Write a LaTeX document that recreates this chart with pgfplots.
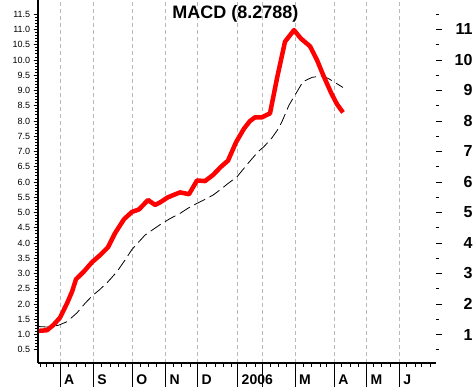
\documentclass[border=0pt]{standalone}
\usepackage{pgfplots}
\pgfplotsset{compat=1.18}
\usepackage{fontspec}
\setmainfont{Liberation Sans}

\pgfplotstableread{
x y
39 1.12
47 1.14
53 1.30
60 1.55
67 2.02
72 2.40
76 2.81
84 3.07
92 3.37
100 3.60
108 3.86
115 4.32
124 4.78
132 5.02
139 5.10
148 5.41
155 5.25
160 5.33
168 5.50
180 5.66
189 5.60
197 6.05
205 6.03
213 6.23
221 6.50
228 6.70
236 7.30
244 7.75
250 8.00
255 8.12
262 8.12
270 8.25
277 9.40
285 10.60
294 10.98
301 10.70
310 10.45
317 10.00
323 9.52
331 8.93
337 8.55
343 8.28
}\macd

\pgfplotstableread{
x y
39 1.26
50 1.24
59 1.31
67 1.42
77 1.71
85 2.02
92 2.26
100 2.48
108 2.73
117 3.06
125 3.44
132 3.79
145 4.26
160 4.60
170 4.80
180 4.97
188 5.14
197 5.30
205 5.43
213 5.57
220 5.74
228 5.95
237 6.17
248 6.61
258 6.99
264 7.16
272 7.45
278 7.73
282 7.98
289 8.52
295 8.85
303 9.29
312 9.43
322 9.48
328 9.40
335 9.26
343 9.10
}\signal

\begin{document}
\begin{tikzpicture}
\pgfplotsset{
  base/.style={scale only axis, width=398pt, height=363pt,
    xmin=38, xmax=436, ymin=0.066, ymax=11.967,
    at={(0pt,0pt)}, anchor=south west},
}
% x axis: month separators, weekly ticks, grid, labels
\begin{axis}[base,
  axis x line=bottom, axis y line=none,
  x axis line style={draw=none},
  ytick=\empty,
  xtick={60,93.3,132.3,165.7,197.7,237.7,262.3,295,334.3,366.7,399.3},
  xticklabels={A,S,O,N,D,2006,,M,A,M,J},
  minor xtick={40.5,46.7,53.3,68.3,76.7,85,101.7,110,118.3,125,140,148.3,156.7,173.5,181.7,190,206.7,215,223.3,231.7,246.7,255,270,278.3,286.7,303.3,311.7,320,326,341.7,350,358.3,373.3,381.7,390,406.7,415,421.7,430},
  tick align=outside,
  major tick length=24pt, minor tick length=4pt,
  xmajorgrids,
  grid style={black!28, dash pattern=on 4pt off 3pt, line width=0.7pt},
  xtick style={black, line width=0.8pt},
  xticklabel style={font=\bfseries\fontsize{14}{14}\selectfont, anchor=north west, xshift=0.5pt, yshift=16pt},
]
\end{axis}
% right axis ticks
\begin{axis}[base,
  axis x line=none, axis y line=right,
  y axis line style={draw=none},
  ytick={1,2,...,11},
  minor ytick={0.5,1.5,...,11.5},
  tick align=outside,
  major tick length=6pt, minor tick length=2.5pt,
  ytick style={black, line width=0.8pt},
  /pgf/number format/assume math mode=true,
  yticklabel style={font=\bfseries\fontsize{16}{16}\selectfont, anchor=east, xshift=34pt},
]
\end{axis}
% main axis with data
\begin{axis}[base,
  axis lines=left,
  axis line style={-, line width=1.1pt},
  xtick=\empty,
  ytick={0.5,1,...,11.5},
  minor y tick num=4,
  tick align=outside,
  major tick length=4.3pt, minor tick length=2.7pt,
  ytick style={black, line width=0.8pt},
  /pgf/number format/assume math mode=true,
  yticklabel style={font=\fontsize{9}{9}\selectfont,
    /pgf/number format/.cd, fixed, fixed zerofill, precision=1},
]
\addplot[black, line width=0.8pt, dash pattern=on 12pt off 5pt] table[x=x,y=y] {\signal};
\addplot[red, line width=4.5pt, line join=round] table[x=x,y=y] {\macd};
\node[font=\bfseries\fontsize{18}{18}\selectfont, anchor=base, inner sep=0pt] at (rel axis cs:0.496,0.9477) {MACD (8.2788)};
\end{axis}
\pgfresetboundingbox
\path (-38pt,-24pt) rectangle (436pt,363pt);
\end{tikzpicture}
\end{document}
